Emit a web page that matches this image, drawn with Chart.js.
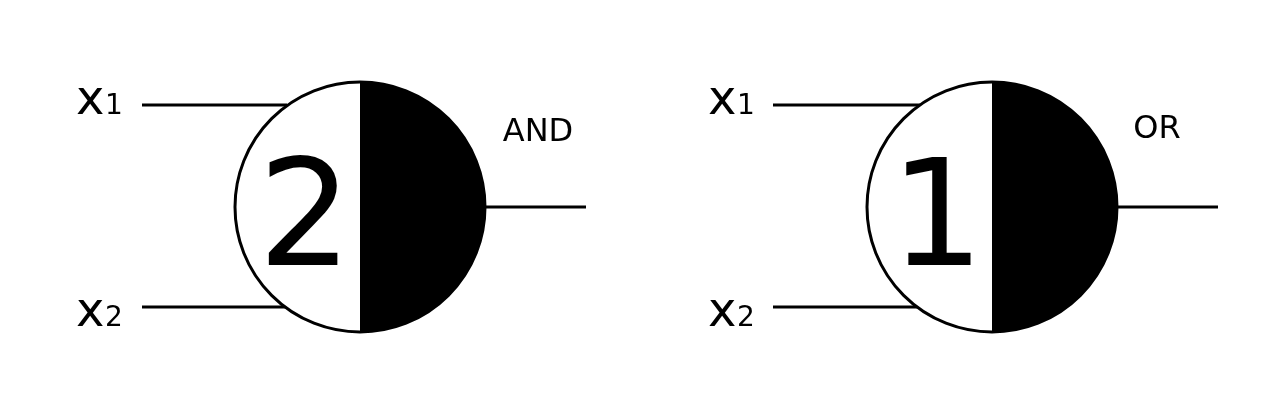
<!DOCTYPE html>
<html>
<head>
<meta charset="utf-8">
<script src="https://cdn.jsdelivr.net/npm/chart.js@4"></script>
<style>
  body { margin: 0; background: #fff; }
</style>
</head>
<body>
<canvas id="diagram" width="1268" height="400"></canvas>
<script>
// Neurons (diagram units = pixels of the reference)
const neuronLabels = ['AND', 'OR'];
const neuronThresholds = ['2', '1'];
const neuronCenterX = [360, 992];
const neuronCenterY = [207, 207];
const neuronRadius = [125, 125];
const gateLabelPos = [[538, 133], [1157, 130]];

// input wires per neuron: [x-start, x-end, y]
const inputWires = [
  [[142, 287, 105], [142, 287, 307]],
  [[773, 920, 105], [773, 920, 307]]
];
// output wires: [x-start, x-end, y]
const outputWires = [[485, 586, 207], [1117, 1218, 207]];
const inputNames = ['1', '2'];
const inputLabelX = [76, 708];
const inputLabelY = [100, 312];

const datasets = [];
inputWires.forEach(ws => ws.forEach(w => datasets.push({
  data: [{x: w[0], y: w[2]}, {x: w[1], y: w[2]}]
})));
outputWires.forEach(w => datasets.push({
  data: [{x: w[0], y: w[2]}, {x: w[1], y: w[2]}]
}));
datasets.forEach(d => Object.assign(d, {
  showLine: true, borderColor: '#000', borderWidth: 3, pointRadius: 0
}));

const neuronPlugin = {
  id: 'neurons',
  afterDatasetsDraw(chart) {
    const ctx = chart.ctx;
    const sx = chart.scales.x, sy = chart.scales.y;
    ctx.save();
    neuronLabels.forEach((lab, i) => {
      const cx = sx.getPixelForValue(neuronCenterX[i]);
      const cy = sy.getPixelForValue(neuronCenterY[i]);
      const r = sx.getPixelForValue(neuronCenterX[i] + neuronRadius[i]) - cx;
      ctx.beginPath(); ctx.arc(cx, cy, r, 0, Math.PI * 2);
      ctx.fillStyle = '#fff'; ctx.fill();
      ctx.beginPath(); ctx.moveTo(cx, cy - r); ctx.arc(cx, cy, r, -Math.PI / 2, Math.PI / 2);
      ctx.closePath(); ctx.fillStyle = '#000'; ctx.fill();
      ctx.beginPath(); ctx.arc(cx, cy, r, 0, Math.PI * 2);
      ctx.lineWidth = 3; ctx.strokeStyle = '#000'; ctx.stroke();

      ctx.fillStyle = '#000';
      ctx.textAlign = 'center'; ctx.textBaseline = 'alphabetic';
      ctx.font = '148px "DejaVu Sans"';
      ctx.fillText(neuronThresholds[i], cx - r * 0.44, cy + 58);

      ctx.font = '32px "DejaVu Sans"';
      ctx.textBaseline = 'middle';
      ctx.fillText(lab, sx.getPixelForValue(gateLabelPos[i][0]), sy.getPixelForValue(gateLabelPos[i][1]));

      inputNames.forEach((n, k) => {
        const lx = sx.getPixelForValue(inputLabelX[i]);
        const ly = sy.getPixelForValue(inputLabelY[k]);
        ctx.textAlign = 'left'; ctx.textBaseline = 'alphabetic';
        ctx.font = '48px "DejaVu Sans"';
        ctx.fillText('x', lx, ly + 14);
        ctx.font = '28px "DejaVu Sans"';
        ctx.fillText(n, lx + 29, ly + 14);
      });
    });
    ctx.restore();
  }
};

new Chart(document.getElementById('diagram'), {
  type: 'scatter',
  data: { datasets },
  options: {
    responsive: false,
    animation: false,
    layout: { padding: 0 },
    plugins: { legend: { display: false }, tooltip: { enabled: false } },
    scales: {
      x: { type: 'linear', min: 0, max: 1268, display: false },
      y: { type: 'linear', min: 0, max: 400, reverse: true, display: false }
    }
  },
  plugins: [neuronPlugin]
});
</script>
</body>
</html>
